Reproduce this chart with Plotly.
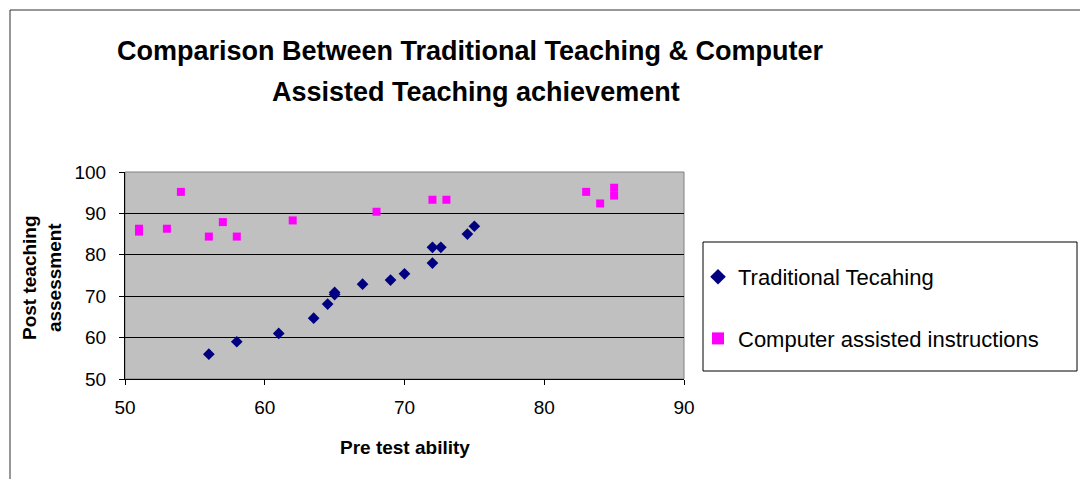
import plotly.graph_objects as go

# Traditional teaching (pre test, post teaching)
trad_pre = [56, 58, 61, 63.5, 64.5, 65, 65, 67, 69, 70, 72, 72, 72.6, 74.5, 75]
trad_post = [56, 59, 61, 64.7, 68.1, 70.9, 70.4, 72.9, 73.9, 75.4, 78, 81.8, 81.8, 85, 86.9]

# Computer assisted instructions
cai_pre = [51, 51, 53, 54, 56, 57, 58, 62, 68, 72, 73, 83, 84, 85, 85]
cai_post = [86.3, 85.6, 86.3, 95.2, 84.4, 87.9, 84.4, 88.3, 90.4, 93.3, 93.3, 95.2, 92.4, 96.2, 94.3]

x_ticks = [50, 60, 70, 80, 90]
y_ticks = [50, 60, 70, 80, 90, 100]

FONT = "Arial, 'Liberation Sans', sans-serif"

# page puts the figure 8px in from the top-left corner
OFF = 8
W, H = 1088, 479
# plot area as seen on the page: left 125, right 684, top 172, bottom 379
L, R, T, B = 125 - OFF, 684 - OFF, 172 - OFF, 379 - OFF


def px(x):
    return (x - OFF - L) / (R - L)


def py(y):
    return (B - (y - OFF)) / (B - T)


fig = go.Figure()

fig.add_trace(go.Scatter(
    x=trad_pre, y=trad_post, mode="markers", name="Traditional Tecahing",
    legendgroup="a",
    marker=dict(symbol="diamond", size=9, color="#000080"),
))
fig.add_trace(go.Scatter(
    x=cai_pre, y=cai_post, mode="markers", name="Computer assisted instructions",
    legendgroup="b",
    marker=dict(symbol="square", size=8, color="#FF00FF"),
))

fig.update_layout(
    width=W, height=H,
    margin=dict(l=L, r=W - R, t=T, b=H - B, pad=0),
    paper_bgcolor="white",
    plot_bgcolor="#C0C0C0",
    font=dict(family=FONT, size=19, color="black"),
    showlegend=True,
    legend=dict(
        x=px(698), y=py(256), xanchor="left", yanchor="top",
        borderwidth=0, bgcolor="rgba(0,0,0,0)",
        font=dict(size=22), tracegroupgap=30, traceorder="grouped",
        itemsizing="constant",
    ),
)

fig.update_xaxes(
    range=[50, 90], tickvals=x_ticks, showgrid=False, zeroline=False,
    showline=True, linecolor="black", linewidth=1,
    ticks="outside", ticklen=5, tickcolor="black",
    tickfont=dict(size=19), ticklabelstandoff=6,
)
fig.update_yaxes(
    range=[50, 100], tickvals=y_ticks, showgrid=True, gridcolor="black",
    gridwidth=1, zeroline=False,
    showline=True, linecolor="black", linewidth=1,
    ticks="outside", ticklen=5, tickcolor="black",
    tickfont=dict(size=19), ticklabelstandoff=9,
)

# plot area border (top / right gray), legend box and outer chart frame
fig.add_shape(type="rect", xref="paper", yref="paper", x0=0, x1=1, y0=0, y1=1,
              line=dict(color="#808080", width=1), layer="below")
fig.add_shape(type="rect", xref="paper", yref="paper",
              x0=px(703), x1=px(1077), y0=py(371), y1=py(242),
              line=dict(color="black", width=1))
fig.add_shape(type="rect", xref="paper", yref="paper",
              x0=px(10), x1=px(1100), y0=py(490), y1=py(10),
              line=dict(color="#303030", width=1))

fig.add_annotation(text="<b>Comparison Between Traditional Teaching & Computer</b>",
                   xref="paper", yref="paper", x=px(470), y=py(51),
                   xanchor="center", yanchor="middle", showarrow=False,
                   font=dict(size=27))
fig.add_annotation(text="<b>Assisted Teaching achievement</b>",
                   xref="paper", yref="paper", x=px(476), y=py(92),
                   xanchor="center", yanchor="middle", showarrow=False,
                   font=dict(size=27))
fig.add_annotation(text="<b>Pre test ability</b>",
                   xref="paper", yref="paper", x=px(405), y=py(447),
                   xanchor="center", yanchor="middle", showarrow=False,
                   font=dict(size=19))
fig.add_annotation(text="<b>Post teaching<br>assessment</b>",
                   xref="paper", yref="paper", x=px(42), y=py(278),
                   xanchor="center", yanchor="middle", showarrow=False,
                   textangle=-90, font=dict(size=19))

fig.write_html("out.html")
